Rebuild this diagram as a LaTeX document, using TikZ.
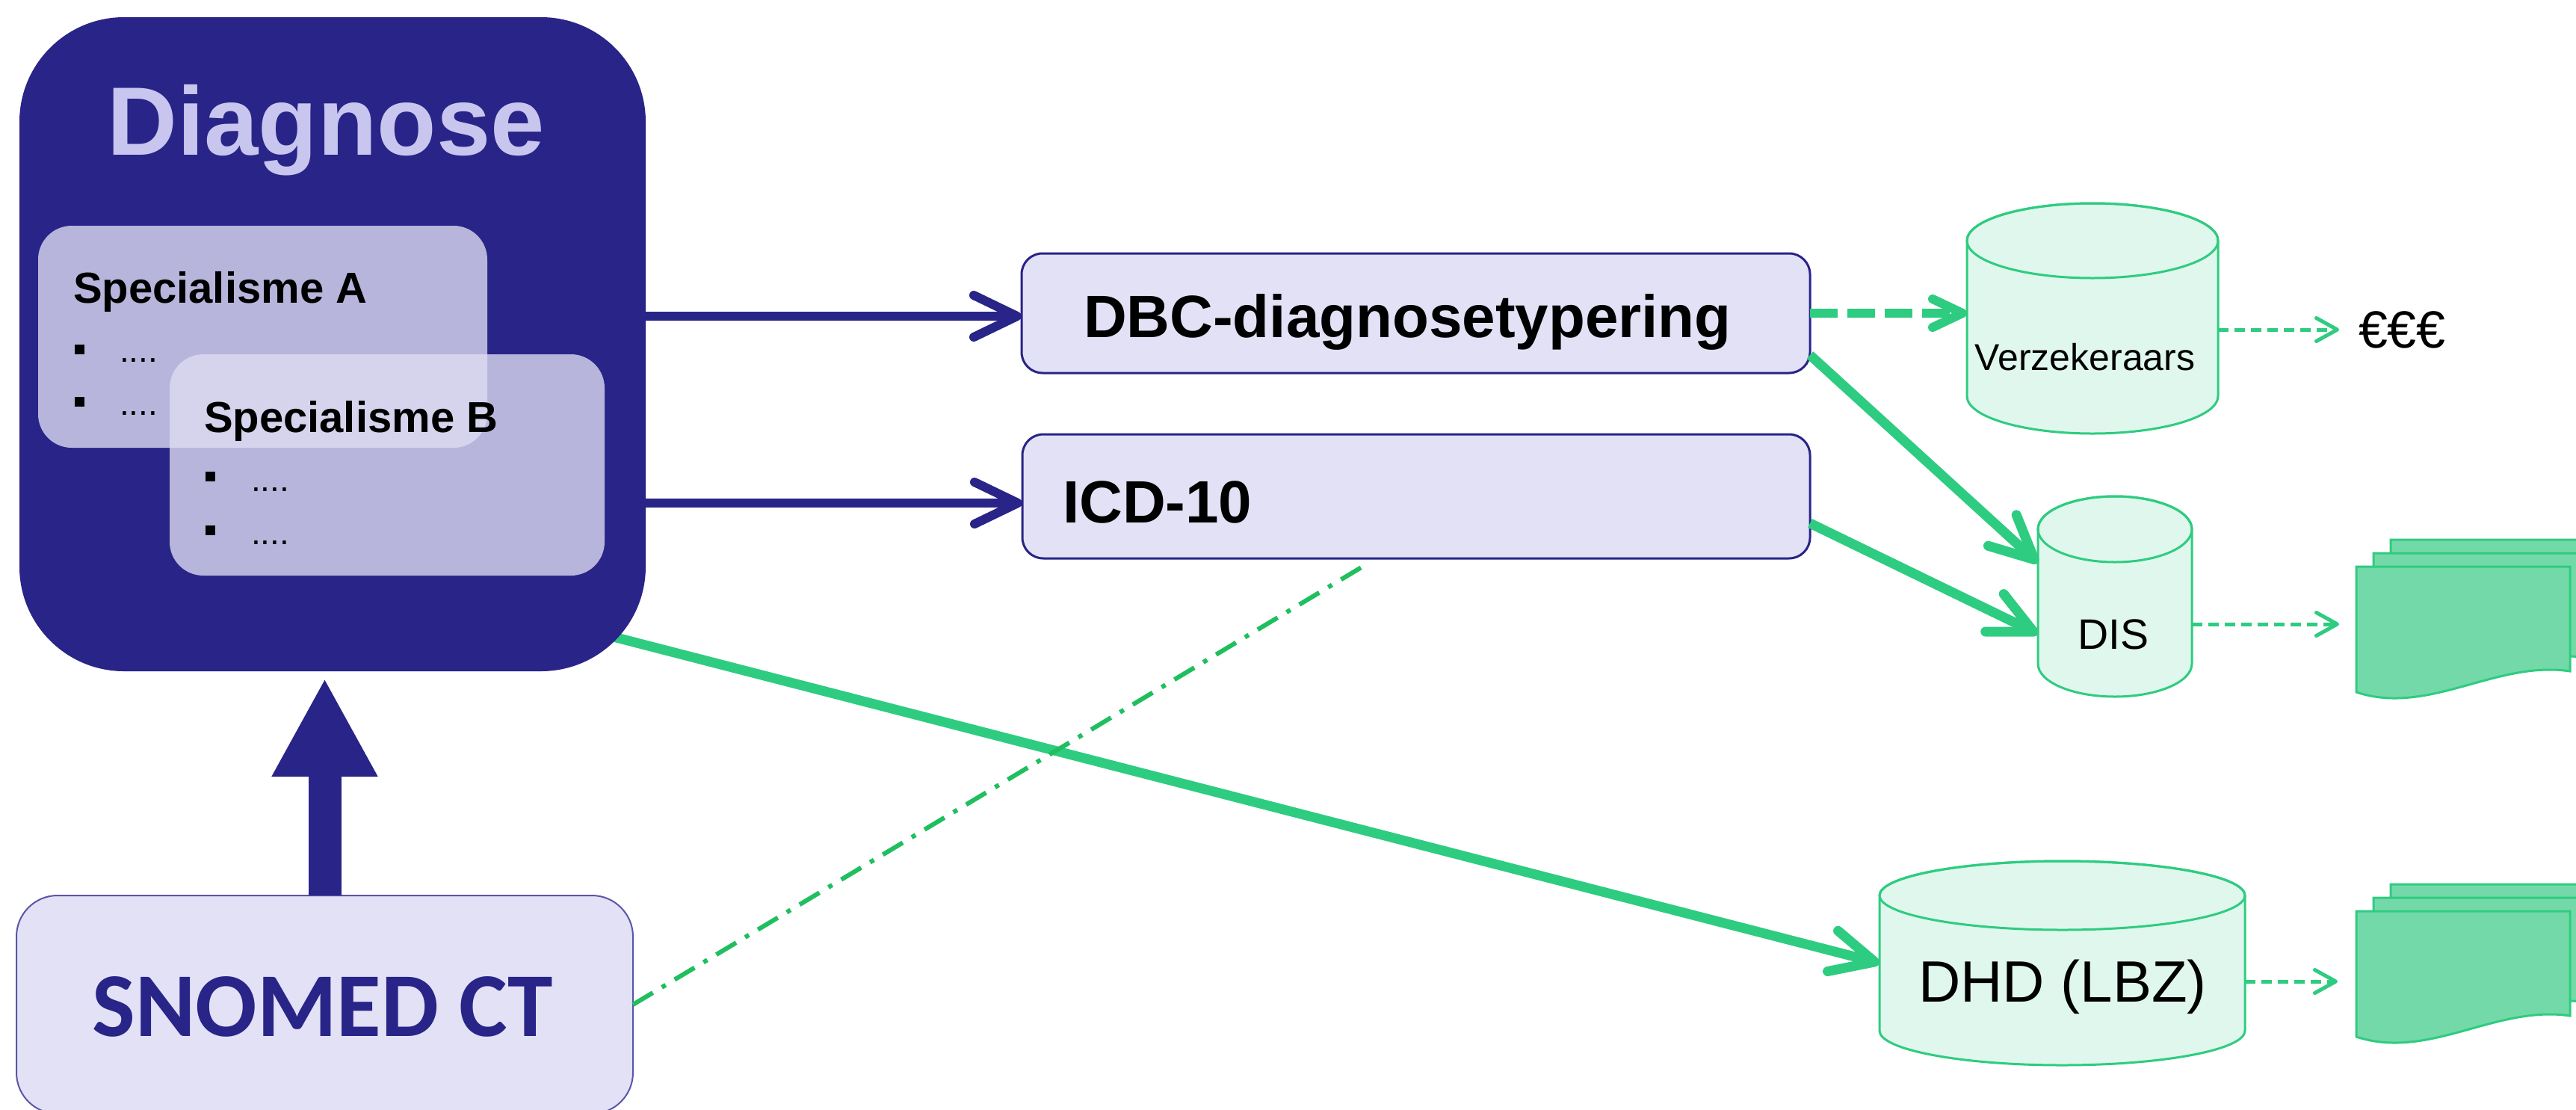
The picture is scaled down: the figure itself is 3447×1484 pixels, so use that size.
\documentclass[tikz,border=0pt]{standalone}
\usepackage{fontspec}
\setmainfont{Liberation Sans}
\newfontfamily\carlitofont{Carlito}
\usetikzlibrary{arrows.meta}
\definecolor{navy}{RGB}{41,36,135}
\definecolor{lav}{RGB}{200,198,239}
\definecolor{boxfill}{RGB}{226,225,246}
\definecolor{specfill}{RGB}{223,222,243}
\definecolor{grn}{RGB}{46,204,128}
\definecolor{grndd}{RGB}{31,191,95}
\definecolor{cylfill}{RGB}{224,247,238}
\definecolor{docfill}{RGB}{116,217,168}
\definecolor{snoborder}{RGB}{90,86,168}
\pgfdeclarelayer{bg}
\pgfsetlayers{bg,main}
\newcommand{\fsz}[1]{\fontsize{#1pt}{#1pt}\selectfont}
\newcommand{\drawcyl}[6]{%
  \path[cyl] (#1,#3) -- (#1,#4) arc[start angle=180,end angle=360,x radius=#5,y radius=#6]
    -- (#2,#3) arc[start angle=0,end angle=180,x radius=#5,y radius=#6] -- cycle;
  \draw[cylline] ({(#1+#2)/2},#3) ellipse[x radius=#5,y radius=#6];}
\newcommand{\docsheet}[2]{%
  \path[docst] (#1,#2) -- ({#1+286},#2) -- ({#1+286},{#2+140})
    .. controls ({#1+187},{#2+125}) and ({#1+97},{#2+200}) .. (#1,{#2+168}) -- cycle;}
\tikzset{
  plainbox/.style={rectangle, inner sep=0pt, outer sep=0pt},
  diagbox/.style={plainbox, fill=navy, rounded corners=70pt},
  specbox/.style={plainbox, fill=specfill, fill opacity=0.78, rounded corners=22.5pt},
  codebox/.style={plainbox, fill=boxfill, draw=navy, line width=1.5pt, rounded corners=14pt},
  snobox/.style={plainbox, fill=boxfill, draw=snoborder, line width=1pt, rounded corners=27.5pt},
  region/.style={plainbox},
  lbl/.style={inner sep=0pt, outer sep=0pt},
  bulletsq/.style={plainbox, fill=black, minimum size=6.5pt},
  cyl/.style={draw=grn, fill=cylfill, line width=1.5pt},
  cylline/.style={draw=grn, line width=1.5pt},
  docst/.style={draw=grn, fill=docfill, line width=1.5pt},
  navyarr/.style={draw=navy, line width=6pt, -{Straight Barb[length=29pt,width=28pt,round]}},
  blockarr/.style={draw=navy, line width=22pt, -{Triangle[length=66pt,width=66pt]}},
  grnthick/.style={draw=grn, line width=6.5pt, -{Straight Barb[length=29pt,width=28pt,round]}},
  thickdash/.style={draw=grn, line width=6pt, dash pattern=on 18.5pt off 6.5pt, -{Straight Barb[length=20pt,width=19pt,round]}},
  thindash/.style={draw=grn, line width=2.5pt, dash pattern=on 7pt off 4pt, -{Straight Barb[length=14pt,width=15.5pt,round]}},
  dashdotgrn/.style={draw=grndd, line width=3pt, dash pattern=on 15.5pt off 7pt on 3pt off 7pt},
}
\begin{document}
\begin{tikzpicture}[x=0.5pt,y=-0.5pt]
\useasboundingbox (0,0) rectangle (3447,1484);
\clip (0,0) rectangle (3447,1484);
\begin{pgfonlayer}{bg}
  \fill[white] (0,0) rectangle (3447,1484);
\end{pgfonlayer}

% Diagnose box
\node[diagbox, minimum width=419pt, minimum height=437.5pt] (diag) at (445,460.5) {};
\node[lbl, anchor=base, text=lav, font=\fsz{65}\bfseries] (diagtitle) at (436,207) {Diagnose};

% Specialisme A
\node[specbox, minimum width=300.5pt, minimum height=148.5pt] (specA) at (351.5,450.5) {};
\node[lbl, anchor=base west, font=\fsz{29}\bfseries] (specAt) at (98,405) {Specialisme A};
\node[bulletsq] (bA1) at (106,467) {};
\node[bulletsq] (bA2) at (106,537) {};
\node[lbl, anchor=base west, font=\fsz{23}] (dA1) at (160,484) {....};
\node[lbl, anchor=base west, font=\fsz{23}] (dA2) at (160,555) {....};

% Specialisme B
\node[specbox, minimum width=291pt, minimum height=148pt] (specB) at (518,622) {};
\node[lbl, anchor=base west, font=\fsz{29}\bfseries] (specBt) at (273,578) {Specialisme B};
\node[bulletsq] (bB1) at (281,637) {};
\node[bulletsq] (bB2) at (281,709) {};
\node[lbl, anchor=base west, font=\fsz{23}] (dB1) at (336,657) {....};
\node[lbl, anchor=base west, font=\fsz{23}] (dB2) at (336,728) {....};

% DBC and ICD boxes
\node[codebox, minimum width=527.5pt, minimum height=80pt] (dbc) at (1894.5,419) {};
\node[lbl, anchor=base west, font=\fsz{40}\bfseries] (dbct) at (1450,451) {DBC-diagnosetypering};
\node[codebox, minimum width=527pt, minimum height=83pt] (icd) at (1895,664) {};
\node[lbl, anchor=base west, font=\fsz{40}\bfseries] (icdt) at (1422,699) {ICD-10};

% SNOMED CT
\node[snobox, minimum width=412.5pt, minimum height=146pt] (snomed) at (434.5,1344) {};
\node[lbl, anchor=base, text=navy, font=\fsz{61}\carlitofont\bfseries] (snomedt) at (432,1386) {SNOMED CT};

% Cylinders
\drawcyl{2632}{2968}{322}{530}{84pt}{25pt}
\node[region, minimum width=168pt, minimum height=154.5pt] (verz) at (2800,425.5) {};
\node[lbl, anchor=base, font=\fsz{25}] (verzt) at (2790,495) {Verzekeraars};

\drawcyl{2727}{2933}{708}{888}{51.5pt}{22pt}
\node[region, minimum width=103pt, minimum height=134pt] (dis) at (2830,798) {};
\node[lbl, anchor=base, font=\fsz{28.5}] (dist) at (2828,868) {DIS};

\drawcyl{2515}{3004}{1198}{1379}{122.25pt}{23pt}
\node[region, minimum width=244.5pt, minimum height=136.5pt] (dhd) at (2759.5,1288.5) {};
\node[lbl, anchor=base, font=\fsz{39}] (dhdt) at (2760,1340) {DHD (LBZ)};

% Euro
\node[lbl, inner xsep=13pt, anchor=west, font=\fsz{35}] (euro) at (3130,441) {€€€};

% Document stacks
\docsheet{3199}{722}
\docsheet{3176}{740}
\docsheet{3153}{758}
\node[region, minimum width=143pt, minimum height=77pt] (docsA) at (3296,835) {};
\docsheet{3199}{1183}
\docsheet{3176}{1201}
\docsheet{3153}{1219}
\node[region, minimum width=143pt, minimum height=94pt] (docsB) at (3296,1313) {};

% Helper coordinates
\coordinate (dbcin) at ([yshift=-2pt]dbc.west);
\coordinate (icdin) at ([yshift=-4.5pt]icd.west);
\coordinate (diagin) at ([yshift=-4.5pt]diag.south);
\coordinate (diagout) at ([xshift=-32pt,yshift=25.7pt]diag.south east);
\coordinate (dbcout) at ([yshift=12pt]dbc.south east);
\coordinate (icdout) at ([yshift=-18pt]icd.east);
\coordinate (disinA) at ([yshift=22.5pt]dis.west);
\coordinate (disinB) at ([yshift=-25pt]dis.west);
\coordinate (docsAin) at ([xshift=-11.5pt]docsA.west);
\coordinate (docsBin) at ([xshift=-12.5pt]docsB.west);
\coordinate (icdnear) at ([xshift=-35pt,yshift=-5pt]icd.south);

% Connectors
\draw[navyarr] (diag.east |- dbcin) -- (dbcin);
\draw[navyarr] (diag.east |- icdin) -- (icdin);
\draw[blockarr] (snomed.north) -- (snomed.north |- diagin);
\begin{pgfonlayer}{bg}
  \draw[grnthick] (diagout) -- (dhd.west);
\end{pgfonlayer}
\draw[thickdash] (dbc.east) -- (dbc.east -| verz.west);
\draw[thindash] (verz.east |- euro.west) -- (euro.west);
\draw[grnthick] (dbcout) -- (disinA);
\draw[grnthick] (icdout) -- (disinB);
\draw[thindash] (dis.east |- docsAin) -- (docsAin);
\draw[thindash] (dhd.east |- docsBin) -- (docsBin);
\draw[dashdotgrn] (snomed.east) -- (icdnear);
\end{tikzpicture}
\end{document}
